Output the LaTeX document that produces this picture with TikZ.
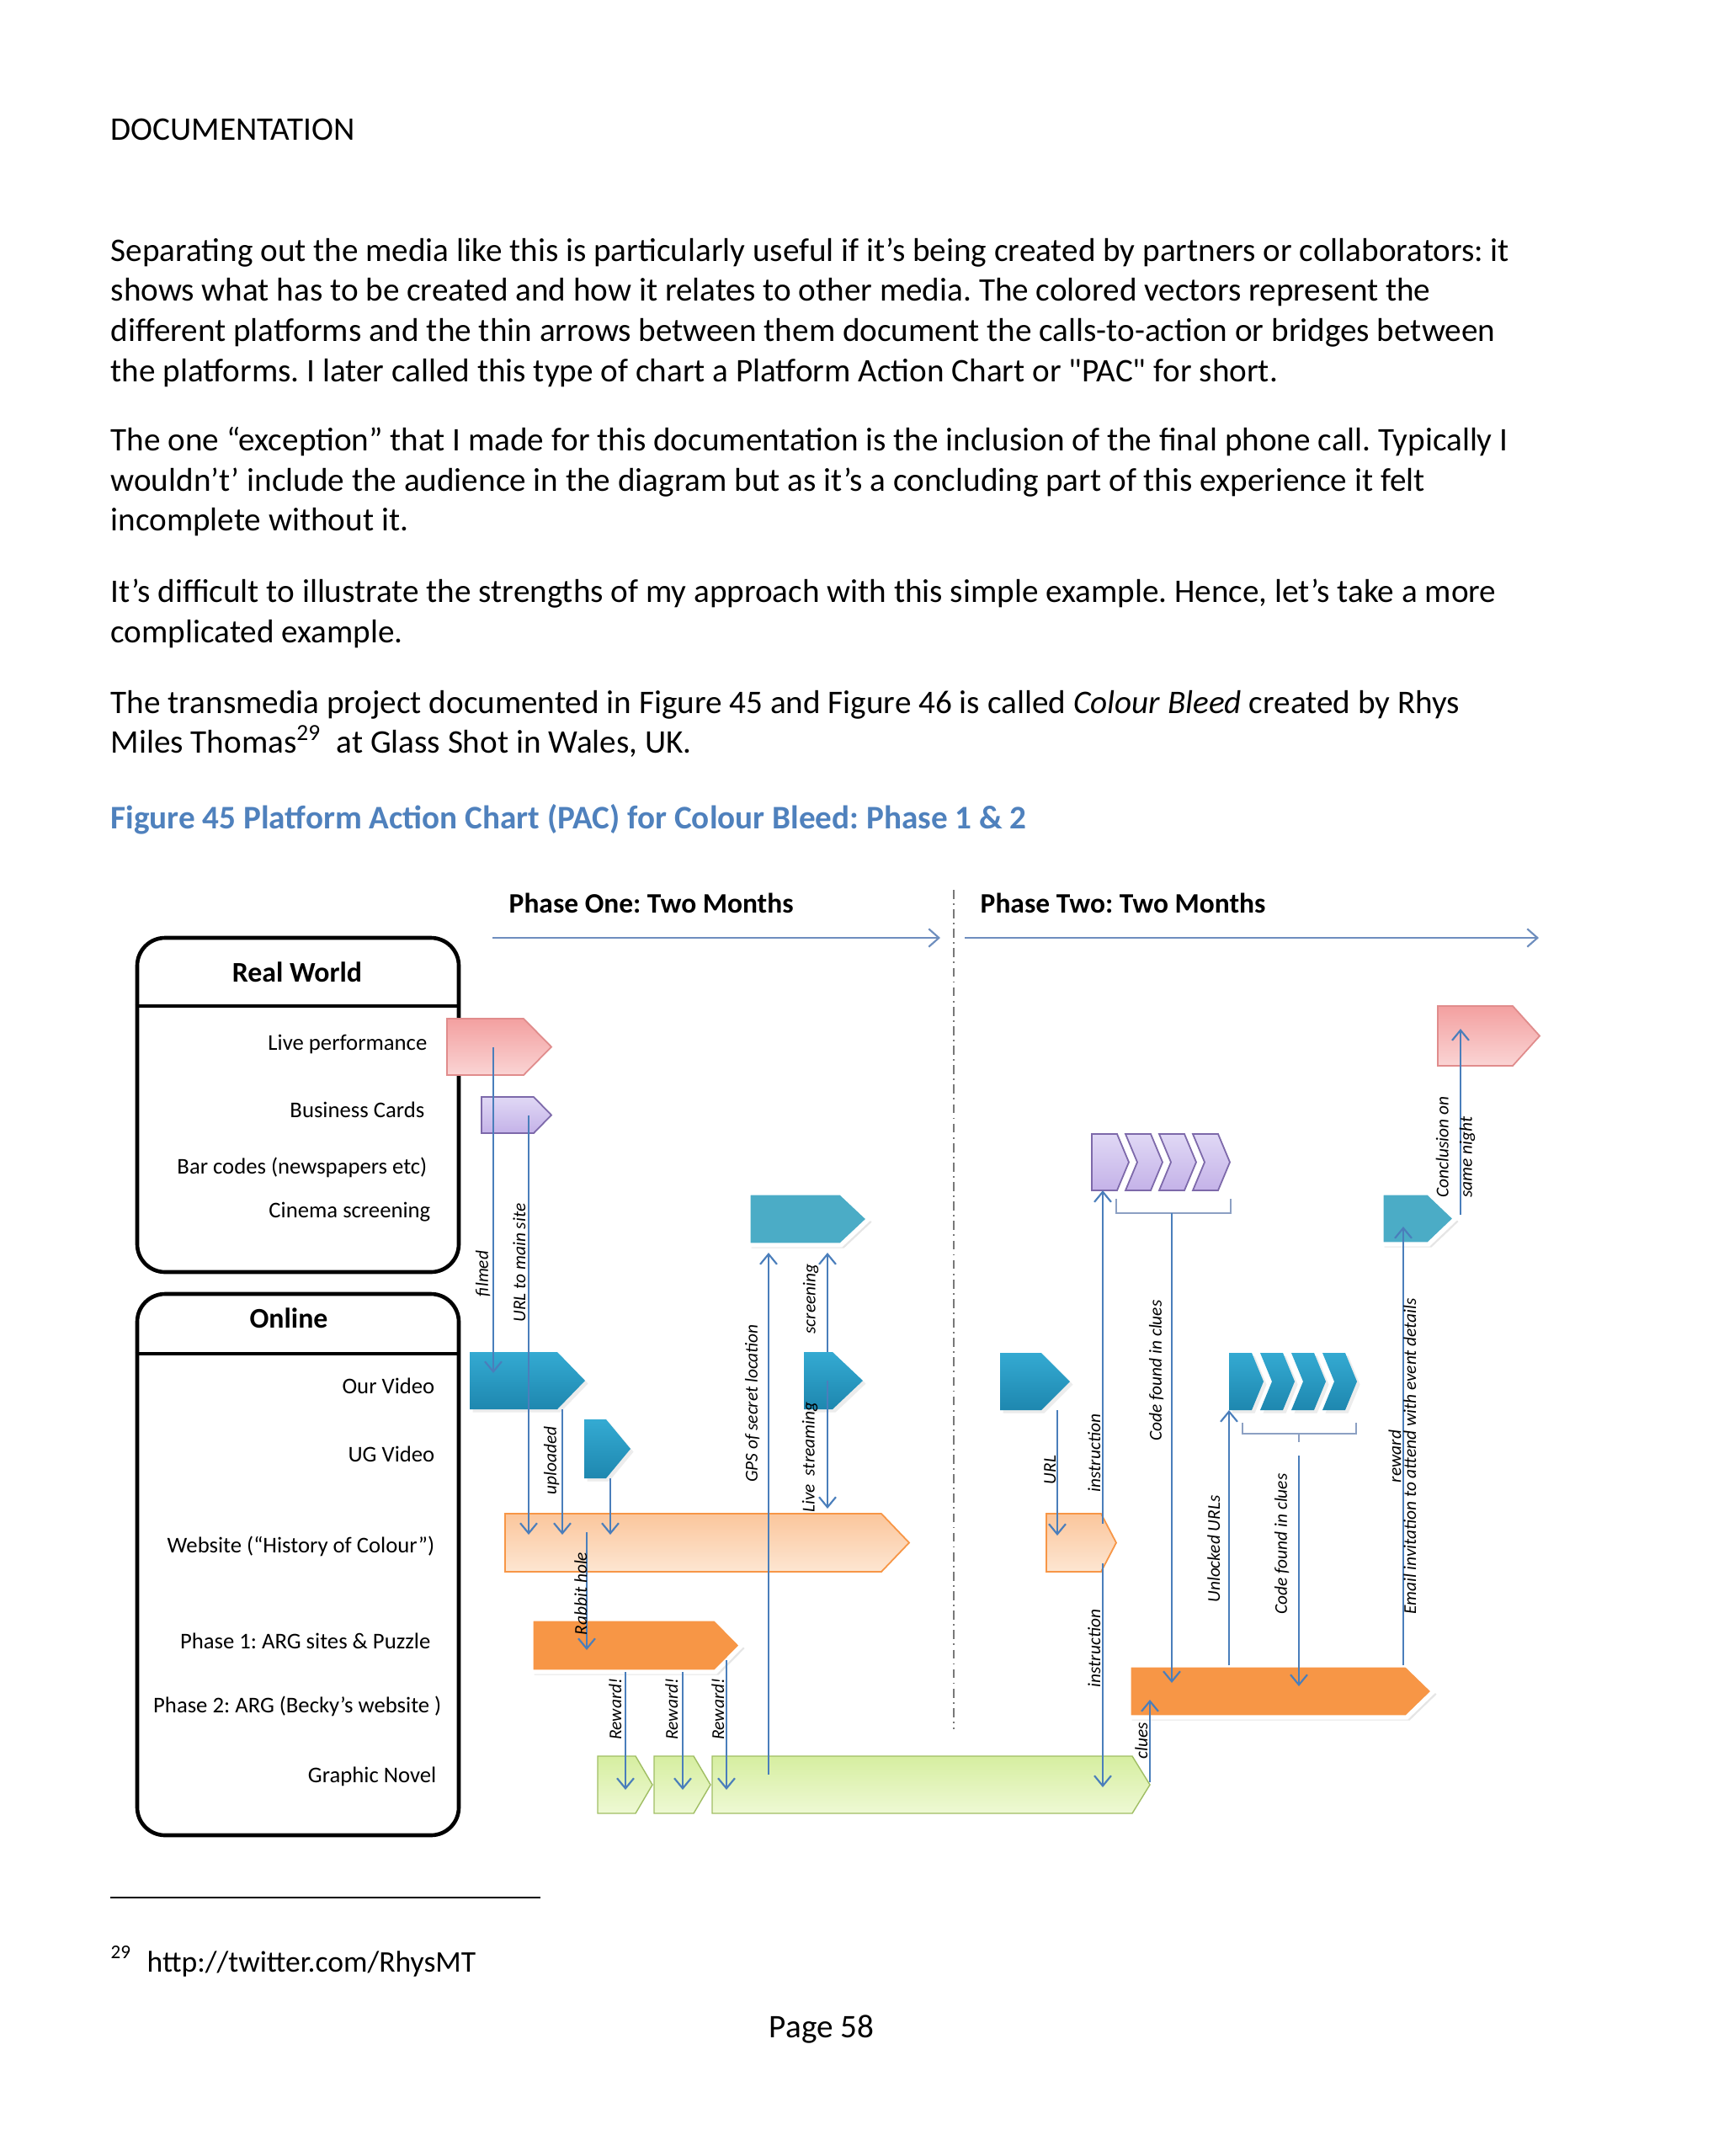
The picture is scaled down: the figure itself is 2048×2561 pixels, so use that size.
\documentclass[tikz,border=0pt]{standalone}
\usepackage{fontspec}
\setmainfont{Carlito}[Ligatures=TeXOff]
\usetikzlibrary{arrows.meta,calc,fit,shadows}

\definecolor{linkblue}{RGB}{74,126,187}
\definecolor{phaseblue}{RGB}{110,142,190}
\definecolor{capblue}{RGB}{79,129,189}
\definecolor{bracketgray}{RGB}{140,160,195}
\definecolor{dividergray}{RGB}{120,120,120}
\definecolor{pinktop}{RGB}{243,160,160}
\definecolor{pinkbot}{RGB}{250,212,212}
\definecolor{pinkline}{RGB}{224,140,140}
\definecolor{lavtop}{RGB}{224,216,245}
\definecolor{lavbot}{RGB}{196,178,232}
\definecolor{lavline}{RGB}{125,105,170}
\definecolor{tealtop}{RGB}{52,170,210}
\definecolor{tealbot}{RGB}{30,135,175}
\definecolor{tealflat}{RGB}{75,172,198}
\definecolor{peachtop}{RGB}{251,198,156}
\definecolor{peachbot}{RGB}{253,230,210}
\definecolor{peachline}{RGB}{247,150,70}
\definecolor{orangeflat}{RGB}{247,150,70}
\definecolor{greentop}{RGB}{214,238,160}
\definecolor{greenbot}{RGB}{238,249,212}
\definecolor{greenline}{RGB}{160,190,100}

% platform vector: flat tail, pointed head
\newcommand{\platform}[7][]{%
  \path[#1] (#3,#4) -- ({#5-#7},#4) -- (#5,{(#4+#6)/2}) -- ({#5-#7},#6) -- (#3,#6) -- cycle;
  \node[hitbox, fit={(#3,#4) (#5,#6)}] (#2) {};}
% chevron: notched tail, pointed head
\newcommand{\chevron}[7][]{%
  \path[#1] (#3,#4) -- ({#5-#7},#4) -- (#5,{(#4+#6)/2}) -- ({#5-#7},#6) -- (#3,#6) -- ({#3+#7},{(#4+#6)/2}) -- cycle;
  \node[hitbox, fit={(#3,#4) (#5,#6)}] (#2) {};}

\begin{document}
\frenchspacing
\begin{tikzpicture}[
    x=0.00988cm, y=-0.00988cm,
    body/.style={anchor=base west, inner sep=0pt, font=\fontsize{11}{13.4}\selectfont},
    caption/.style={body, text=capblue, font=\fontsize{11}{13.4}\selectfont\bfseries},
    lane/.style={draw=black, line width=1.3pt, rounded corners=9.3pt, inner sep=0pt},
    lanetitle/.style={font=\fontsize{9.5}{11}\selectfont\bfseries, inner sep=0pt},
    rowlbl/.style={anchor=east, inner sep=0pt, font=\fontsize{7.5}{9}\selectfont},
    phasehead/.style={anchor=west, inner sep=0pt, font=\fontsize{9.4}{11}\selectfont\bfseries},
    phasearrow/.style={draw=phaseblue, line width=0.6pt, -{Straight Barb[length=3.4pt,width=6pt]}},
    divider/.style={draw=dividergray, line width=0.4pt, dash pattern=on 3pt off 1.5pt on 0.5pt off 1.5pt},
    bracket/.style={draw=bracketgray, line width=0.6pt},
    link/.style={draw=linkblue, line width=0.6pt, -{Straight Barb[length=3.4pt,width=5.6pt]}},
    lbl/.style={rotate=90, anchor=south, inner sep=0pt, font=\fontsize{6}{7}\selectfont\itshape},
    hitbox/.style={inner sep=0pt, outer sep=0pt},
    pinkvec/.style={top color=pinktop, bottom color=pinkbot, draw=pinkline, line width=0.5pt},
    lavvec/.style={top color=lavtop, bottom color=lavbot, draw=lavline, line width=0.5pt},
    tealvec/.style={top color=tealtop, bottom color=tealbot, drop shadow={opacity=0.15, shadow xshift=1pt, shadow yshift=-1pt}},
    tealflatvec/.style={fill=tealflat, draw=white, line width=1.5pt, drop shadow={opacity=0.2, shadow xshift=1pt, shadow yshift=-1pt}},
    peachvec/.style={top color=peachtop, bottom color=peachbot, draw=peachline, line width=0.5pt},
    orangevec/.style={fill=orangeflat, draw=white, line width=1.5pt, drop shadow={opacity=0.2, shadow xshift=1pt, shadow yshift=-1pt}},
    greenvec/.style={top color=greentop, bottom color=greenbot, draw=greenline, line width=0.4pt}
]
\fill[white] (0,0) rectangle (2048,2561);
\useasboundingbox (0,0) rectangle (2048,2561);

% page text
\node[body] (doc) at (131,166) {DOCUMENTATION};
\node[body] (p1a) at (131,310) {Separating out the media like this is particularly useful if it’s being created by partners or collaborators: it};
\node[body] (p1b) at (131,357) {shows what has to be created and how it relates to other media. The colored vectors represent the};
\node[body] (p1c) at (131,405) {different platforms and the thin arrows between them document the calls-to-action or bridges between};
\node[body] (p1d) at (131,453) {the platforms. I later called this type of chart a Platform Action Chart or "PAC" for short.};
\node[body] (p2a) at (131,535) {The one “exception” that I made for this documentation is the inclusion of the final phone call. Typically I};
\node[body] (p2b) at (131,583) {wouldn’t’ include the audience in the diagram but as it’s a concluding part of this experience it felt};
\node[body] (p2c) at (131,630) {incomplete without it.};
\node[body] (p3a) at (131,715) {It’s difficult to illustrate the strengths of my approach with this simple example. Hence, let’s take a more};
\node[body] (p3b) at (131,763) {complicated example.};
\node[body] (p4a) at (131,847) {The transmedia project documented in Figure 45 and Figure 46 is called \textit{Colour Bleed} created by Rhys};
\node[body] (p4b) at (131,894) {Miles Thomas\textsuperscript{29}\ \ at Glass Shot in Wales, UK.};
\node[caption] (cap) at (131,984) {Figure 45 Platform Action Chart (PAC) for Colour Bleed: Phase 1 \& 2};

% lanes
\node[lane, fit={(163,1114) (545,1511)}] (realworld) {};
\draw[line width=1.3pt] (realworld.west |- 0,1195) -- (realworld.east |- 0,1195);
\node[lanetitle] (rwtitle) at (353,1155) {Real World};
\node[rowlbl] (lblive) at (508,1240) {Live performance};
\node[rowlbl] (lbcards) at (505,1318) {Business Cards};
\node[rowlbl] (lbbar) at (508,1387) {Bar codes (newspapers etc)};
\node[rowlbl] (lbcinema) at (512,1440) {Cinema screening};

\node[lane, fit={(163,1537) (545,2180)}] (online) {};
\draw[line width=1.3pt] (online.west |- 0,1608) -- (online.east |- 0,1608);
\node[lanetitle] (ontitle) at (343,1566) {Online};
\node[rowlbl] (lbour) at (517,1646) {Our Video};
\node[rowlbl] (lbug) at (517,1727) {UG Video};
\node[rowlbl] (lbweb) at (517,1837) {Website (“History of Colour”)};
\node[rowlbl] (lbarg1) at (512,1949) {Phase 1: ARG sites \& Puzzle};
\node[rowlbl] (lbarg2) at (525,2027) {Phase 2: ARG (Becky’s website )};
\node[rowlbl] (lbnovel) at (519,2110) {Graphic Novel};

% timeline
\node[phasehead] (ph1) at (604,1073) {Phase One: Two Months};
\node[phasehead] (ph2) at (1164,1073) {Phase Two: Two Months};
\coordinate (p1start) at (585,1114);
\coordinate (p1end) at (1117,1114);
\coordinate (p2start) at (1146,1114);
\coordinate (p2end) at (1828,1114);
\draw[phasearrow] (p1start) -- (p1end);
\draw[phasearrow] (p2start) -- (p2end);
\coordinate (divtop) at (1133,1057);
\coordinate (divbot) at (1133,2054);
\draw[divider] (divtop) -- (divbot);

% phase one vectors
\platform[pinkvec]{live1}{531}{1210}{655}{1277}{33}
\platform[lavvec]{cards1}{572}{1303}{655}{1346}{21}
\platform[tealflatvec]{cinema1}{889}{1417}{1032}{1479}{33}
\platform[tealvec]{ourvid}{558}{1606}{695}{1674}{33}
\platform[tealvec]{ugvid}{694}{1686}{749}{1756}{29}
\platform[tealvec]{stream1}{955}{1606}{1025}{1674}{36}
\platform[peachvec]{web1}{600}{1798}{1080}{1867}{33}
\platform[orangevec]{arg1}{631}{1923}{881}{1986}{31}
\platform[greenvec]{gn1}{710}{2086}{775}{2154}{20}
\platform[greenvec]{gn2}{777}{2086}{844}{2154}{20}
\platform[greenvec]{gn3}{846}{2086}{1366}{2154}{21}

% phase two vectors
\platform[peachvec]{web2}{1243}{1798}{1326}{1867}{18}
\platform[tealvec]{url2}{1188}{1607}{1271}{1675}{34}
\platform[lavvec]{lavc1}{1297}{1347}{1341}{1414}{14}
\chevron[lavvec]{lavc2}{1337}{1347}{1381}{1414}{14}
\chevron[lavvec]{lavc3}{1377}{1347}{1421}{1414}{14}
\chevron[lavvec]{lavc4}{1417}{1347}{1461}{1414}{14}
\platform[tealvec]{tc1}{1460}{1607}{1501}{1675}{14}
\chevron[tealvec]{tc2}{1497}{1607}{1538}{1675}{14}
\chevron[tealvec]{tc3}{1534}{1607}{1575}{1675}{14}
\chevron[tealvec]{tc4}{1571}{1607}{1612}{1675}{14}
\platform[orangevec]{arg2}{1341}{1978}{1703}{2040}{32}
\platform[tealflatvec]{teal2}{1641}{1417}{1729}{1478}{32}
\platform[pinkvec]{live2}{1708}{1195}{1829}{1266}{32}

% brackets under the chevron groups
\draw[bracket] (1326,1424) -- (1326,1441) -- (1462,1441) -- (1462,1424);
\coordinate (lavbr) at (1392,1441);
\draw[bracket] (1476,1690) -- (1476,1703) -- (1611,1703) -- (1611,1690);
\draw[bracket] (1543,1703) -- (1543,1713);
\coordinate (tealbr) at (1543,1729);

% calls to action, phase one
\draw[link] (586,0 |- live1.center) -- ($(586,0 |- ourvid.north)+(0,25)$);
\draw[link] (628,0 |- cards1.center) -- ($(628,0 |- web1.north)+(0,25)$);
\draw[link] (668,0 |- ourvid.south) -- ($(668,0 |- web1.north)+(0,25)$);
\draw[link] (725,0 |- ugvid.south) -- ($(725,0 |- web1.north)+(0,25)$);
\draw[link] ($(697,0 |- web1.north)+(0,22)$) -- ($(697,0 |- arg1.north)+(0,37)$);
\draw[link] (743,0 |- arg1.south) -- ($(743,0 |- gn1.north)+(0,40)$);
\draw[link] (811,0 |- arg1.south) -- ($(811,0 |- gn2.north)+(0,40)$);
\draw[link] ($(863,0 |- arg1.south)+(0,-14)$) -- ($(863,0 |- gn3.north)+(0,40)$);
\draw[link] ($(913,0 |- gn3.north)+(0,22)$) -- ($(913,0 |- cinema1.south)+(0,9)$);
\draw[link] (983,0 |- stream1.north) -- ($(983,0 |- cinema1.south)+(0,9)$);
\draw[link] (983,0 |- stream1.center) -- ($(983,0 |- web1.north)+(0,-6)$);

% calls to action, phase two
\draw[link] (1256,0 |- url2.south) -- ($(1256,0 |- web2.north)+(0,26)$);
\draw[link] ($(1310,0 |- web2.north)+(0,12)$) -- (1310,0 |- lavc1.south);
\draw[link] ($(1310,0 |- web2.south)+(0,-10)$) -- ($(1310,0 |- gn3.north)+(0,37)$);
\draw[link] (lavbr) -- ($(lavbr |- arg2.north)+(0,21)$);
\draw[link] (1460,0 |- arg2.north) -- (1460,0 |- tc1.south);
\draw[link] (tealbr) -- ($(tealbr |- arg2.north)+(0,25)$);
\draw[link] (1667,0 |- arg2.north) -- ($(1667,0 |- teal2.south)+(0,-21)$);
\draw[link] ($(1735,0 |- teal2.north)+(0,26)$) -- ($(1735,0 |- live2.north)+(0,27)$);
\draw[link] ($(1366,0 |- gn3.north)+(0,31)$) -- ($(1366,0 |- arg2.south)+(0,-21)$);

% connector labels
\node[lbl] (lfilmed) at (583,1513) {filmed};
\node[lbl] (lurlmain) at (625,1500) {URL to main site};
\node[lbl] (lupload) at (665,1735) {uploaded};
\node[lbl] (lrabbit) at (698,1893) {Rabbit hole};
\node[lbl] (lrew1) at (739,2030) {Reward!};
\node[lbl] (lrew2) at (806,2030) {Reward!};
\node[lbl] (lrew3) at (861,2030) {Reward!};
\node[lbl] (lgps) at (903,1667) {GPS of secret location};
\node[lbl] (lscreen) at (973,1543) {screening};
\node[lbl] (lstream) at (972,1731) {Live\ \ streaming};
\node[lbl] (lurl) at (1255,1746) {URL};
\node[lbl] (linstr1) at (1308,1726) {instruction};
\node[lbl] (linstr2) at (1308,1958) {instruction};
\node[lbl] (lcode1) at (1383,1628) {Code found in clues};
\node[lbl] (lunlock) at (1450,1840) {Unlocked URLs};
\node[lbl] (lcode2) at (1532,1834) {Code found in clues};
\node[lbl] (lclues) at (1364,2068) {clues};
\node[lbl, anchor=center, align=center, font=\fontsize{6}{5}\selectfont\itshape] (lemail) at (1666,1730) {reward\\Email invitation to attend with event details};
\node[lbl, anchor=west, align=left, font=\fontsize{6}{7.9}\selectfont\itshape] (lconc) at (1729,1423) {Conclusion on\\same night};

% footnote and page number
\coordinate (fnl) at (131,2254);
\coordinate (fnr) at (642,2254);
\draw[line width=0.8pt] (fnl) -- (fnr);
\node[anchor=base west, inner sep=0pt, font=\fontsize{6.5}{8}\selectfont] (fnmark) at (131,2326) {29};
\node[anchor=base west, inner sep=0pt, font=\fontsize{10}{12}\selectfont] (fnurl) at (174,2342) {http://twitter.com/RhysMT};
\node[anchor=base, inner sep=0pt, font=\fontsize{11}{13.4}\selectfont] (pageno) at (976,2420) {Page 58};
\end{tikzpicture}
\end{document}
